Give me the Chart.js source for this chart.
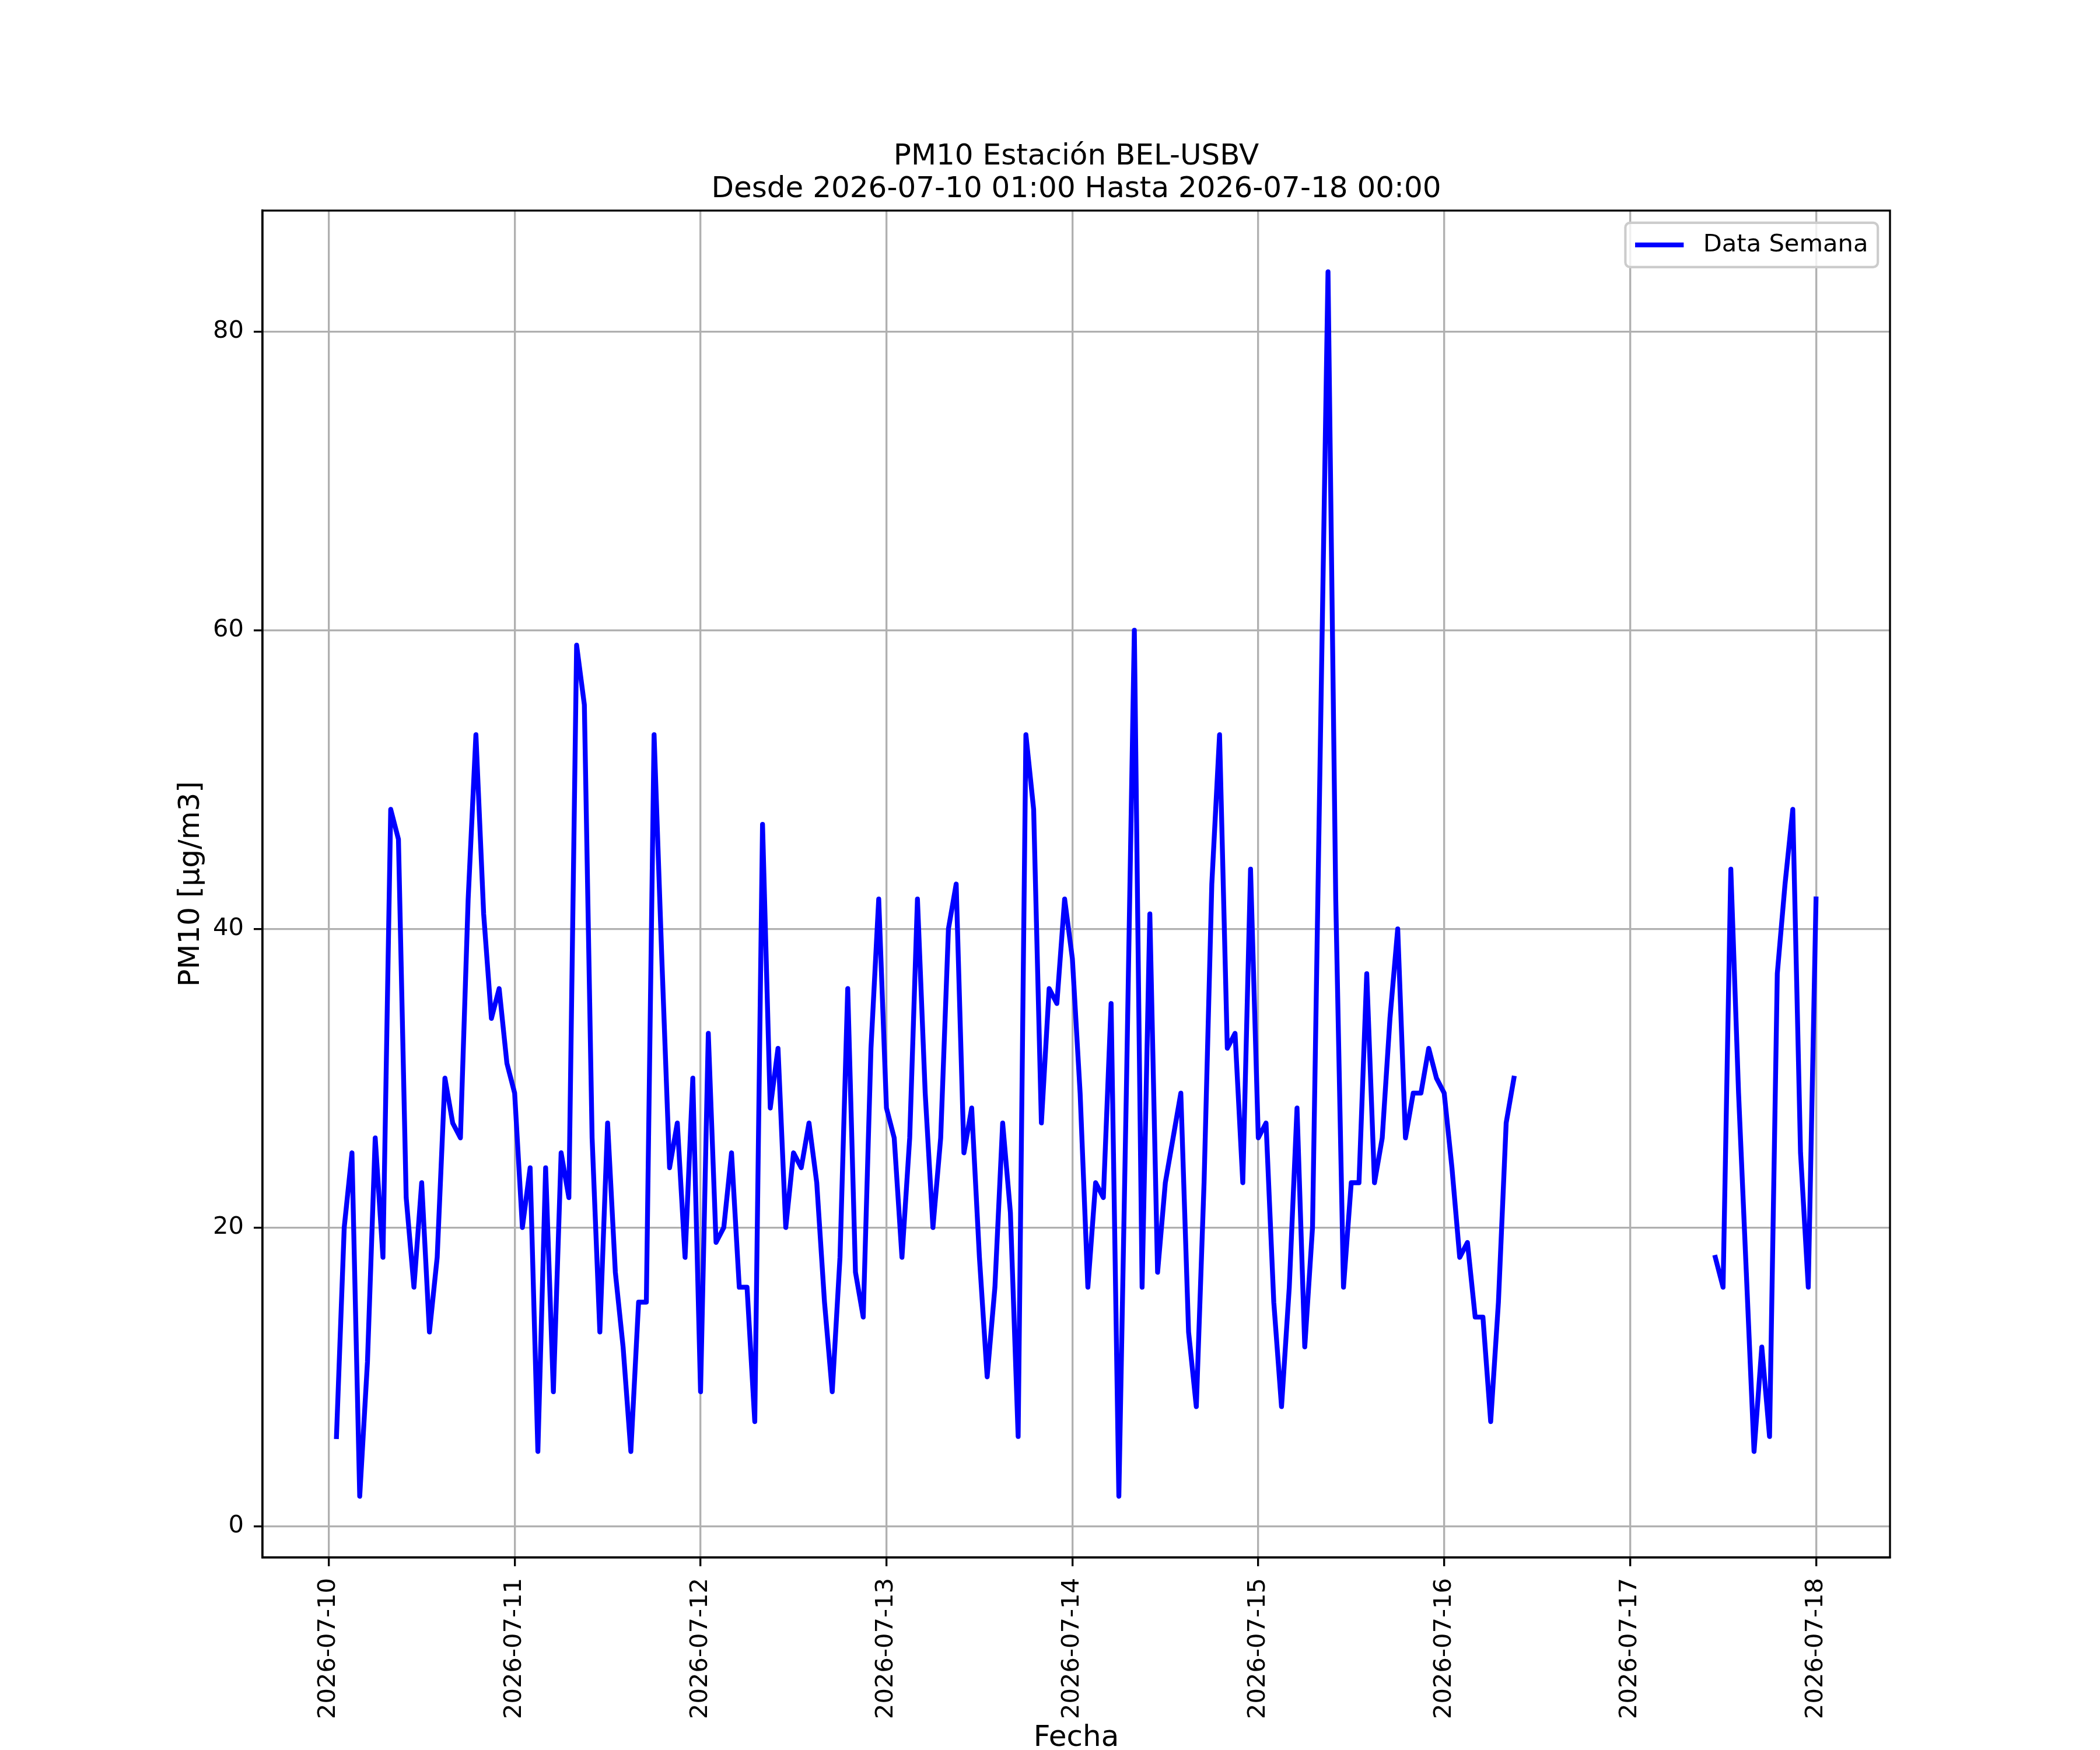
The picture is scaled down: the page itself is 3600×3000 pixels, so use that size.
<!DOCTYPE html>
<html>
<head>
<meta charset="utf-8">
<script src="https://cdn.jsdelivr.net/npm/chart.js@4.4.1/dist/chart.umd.min.js"></script>
<style>
  html, body { margin: 0; padding: 0; background: #ffffff; }
  canvas { display: block; }
</style>
</head>
<body>
<canvas id="c" width="3600" height="3000" style="width:3600px;height:3000px"></canvas>
<script>
// ---------------- data ----------------
const chartTitle = ["PM10 Estación BEL-USBV", "Desde 2026-07-10 01:00 Hasta 2026-07-18 00:00"];
const xLabel = "Fecha";
const yLabel = "PM10 [μg/m3]";
const seriesName = "Data Semana";
const dayTickLabels = ["2026-07-10", "2026-07-11", "2026-07-12", "2026-07-13", "2026-07-14",
                       "2026-07-15", "2026-07-16", "2026-07-17", "2026-07-18"];
const yTickValues = [0, 20, 40, 60, 80];

// hourly PM10 values, each list covers 01:00 ... 24:00 (next day 00:00) of the day named
const pm10_07_10 = [6, 20, 25, 2, 11, 26, 18, 48, 46, 22, 16, 23, 13, 18, 30, 27, 26, 42, 53, 41, 34, 36, 31, 29];
const pm10_07_11 = [20, 24, 5, 24, 9, 25, 22, 59, 55, 26, 13, 27, 17, 12, 5, 15, 15, 53, 38, 24, 27, 18, 30, 9];
const pm10_07_12 = [33, 19, 20, 25, 16, 16, 7, 47, 28, 32, 20, 25, 24, 27, 23, 15, 9, 18, 36, 17, 14, 32, 42, 28];
const pm10_07_13 = [26, 18, 26, 42, 29, 20, 26, 40, 43, 25, 28, 18, 10, 16, 27, 21, 6, 53, 48, 27, 36, 35, 42, 38];
const pm10_07_14 = [29, 16, 23, 22, 35, 2, 30, 60, 16, 41, 17, 23, 26, 29, 13, 8, 23, 43, 53, 32, 33, 23, 44, 26];
const pm10_07_15 = [27, 15, 8, 16, 28, 12, 20, 52, 84, 42, 16, 23, 23, 37, 23, 26, 34, 40, 26, 29, 29, 32, 30, 29];
const pm10_07_16 = [24, 18, 19, 14, 14, 7, 15, 27, 30, null, null, null, null, null, null, null, null, null, null, null, null, null, null, null];
const pm10_07_17 = [null, null, null, null, null, null, null, null, null, null, 18, 16, 44, 29, 17, 5, 12, 6, 37, 43, 48, 25, 16, 42];

const dailySeries = [pm10_07_10, pm10_07_11, pm10_07_12, pm10_07_13, pm10_07_14, pm10_07_15, pm10_07_16, pm10_07_17];

// x = hours elapsed since 2026-07-10 00:00
const points = [];
dailySeries.forEach((vals, d) => {
  vals.forEach((v, h) => points.push({ x: d * 24 + h + 1, y: v }));
});
const xTickValues = dayTickLabels.map((_, i) => i * 24);

// ---------------- chart ----------------
const FONT = "'DejaVu Sans', 'Liberation Sans', sans-serif";
const PT = 300 / 72; // figure was 12x10 in at 300 dpi

const framePlugin = {
  id: 'frame',
  afterDatasetsDraw(chart) {
    const { ctx, chartArea: a } = chart;
    ctx.save();
    ctx.strokeStyle = '#000000';
    ctx.lineWidth = 0.8 * PT;
    ctx.strokeRect(a.left, a.top, a.right - a.left, a.bottom - a.top);
    ctx.restore();
  }
};

const legendPlugin = {
  id: 'mplLegend',
  afterDraw(chart) {
    const { ctx, chartArea: a } = chart;
    const fs = 10 * PT;
    ctx.save();
    ctx.font = `${fs}px ${FONT}`;
    const textW = ctx.measureText(seriesName).width;
    const pad = 0.4 * fs, handleLen = 2 * fs, handlePad = 0.8 * fs;
    const boxW = pad + handleLen + handlePad + textW + pad;
    const boxH = 76;
    const right = a.right - 0.5 * fs;
    const top = a.top + 0.5 * fs;
    const left = right - boxW;
    const r = 8;
    ctx.beginPath();
    ctx.moveTo(left + r, top);
    ctx.lineTo(right - r, top);
    ctx.arcTo(right, top, right, top + r, r);
    ctx.lineTo(right, top + boxH - r);
    ctx.arcTo(right, top + boxH, right - r, top + boxH, r);
    ctx.lineTo(left + r, top + boxH);
    ctx.arcTo(left, top + boxH, left, top + boxH - r, r);
    ctx.lineTo(left, top + r);
    ctx.arcTo(left, top, left + r, top, r);
    ctx.closePath();
    ctx.fillStyle = 'rgba(255,255,255,0.8)';
    ctx.fill();
    ctx.strokeStyle = '#cccccc';
    ctx.lineWidth = 1 * PT;
    ctx.stroke();
    const cy = top + boxH / 2;
    ctx.beginPath();
    ctx.moveTo(left + pad, cy);
    ctx.lineTo(left + pad + handleLen, cy);
    ctx.strokeStyle = '#0000ff';
    ctx.lineWidth = 2 * PT;
    ctx.lineCap = 'butt';
    ctx.stroke();
    ctx.fillStyle = '#000000';
    ctx.textBaseline = 'middle';
    ctx.textAlign = 'left';
    ctx.fillText(seriesName, left + pad + handleLen + handlePad, cy);
    ctx.restore();
  }
};

new Chart(document.getElementById('c').getContext('2d'), {
  type: 'line',
  data: {
    datasets: [{
      label: seriesName,
      data: points,
      borderColor: '#0000ff',
      backgroundColor: '#0000ff',
      borderWidth: 2 * PT,
      pointRadius: 0,
      pointHoverRadius: 0,
      tension: 0,
      spanGaps: false,
      fill: false,
      borderJoinStyle: 'round',
      borderCapStyle: 'square'
    }]
  },
  options: {
    responsive: false,
    maintainAspectRatio: false,
    devicePixelRatio: 1,
    animation: false,
    events: [],
    layout: { padding: { left: 0, right: 360, top: 0, bottom: 0 } },
    plugins: {
      legend: { display: false },
      tooltip: { enabled: false },
      title: {
        display: true,
        fullSize: false,
        text: chartTitle,
        color: '#000000',
        font: { family: FONT, size: 12 * PT, weight: 'normal', lineHeight: 1.12 },
        padding: { top: 241.5, bottom: 7.5 }
      }
    },
    scales: {
      x: {
        type: 'linear',
        min: -8.55,
        max: 201.55,
        afterBuildTicks: (s) => { s.ticks = xTickValues.map(v => ({ value: v })); },
        afterFit: (s) => { s.height = 330; },
        ticks: {
          autoSkip: false,
          minRotation: 90,
          maxRotation: 90,
          padding: 20,
          color: '#000000',
          font: { family: FONT, size: 10 * PT },
          callback: (v) => dayTickLabels[Math.round(v / 24)]
        },
        grid: {
          color: '#b0b0b0',
          lineWidth: 0.8 * PT,
          drawTicks: true,
          tickLength: 15,
          tickColor: '#000000',
          tickWidth: 0.8 * PT
        },
        border: { display: true, color: '#000000', width: 0.8 * PT },
        title: {
          display: true,
          text: xLabel,
          color: '#000000',
          font: { family: FONT, size: 12 * PT, lineHeight: 0.8 },
          padding: { top: 0, bottom: 0 }
        }
      },
      y: {
        type: 'linear',
        min: -2.1,
        max: 88.1,
        afterBuildTicks: (s) => { s.ticks = yTickValues.map(v => ({ value: v })); },
        afterFit: (s) => { s.width = 450; },
        ticks: {
          padding: 17,
          color: '#000000',
          font: { family: FONT, size: 10 * PT },
          callback: (v) => String(v)
        },
        grid: {
          color: '#b0b0b0',
          lineWidth: 0.8 * PT,
          drawTicks: true,
          tickLength: 15,
          tickColor: '#000000',
          tickWidth: 0.8 * PT
        },
        border: { display: true, color: '#000000', width: 0.8 * PT },
        title: {
          display: true,
          text: yLabel,
          color: '#000000',
          font: { family: FONT, size: 12 * PT, lineHeight: 1.2 },
          padding: { top: 298, bottom: 0 }
        }
      }
    }
  },
  plugins: [framePlugin, legendPlugin]
});
</script>
</body>
</html>
